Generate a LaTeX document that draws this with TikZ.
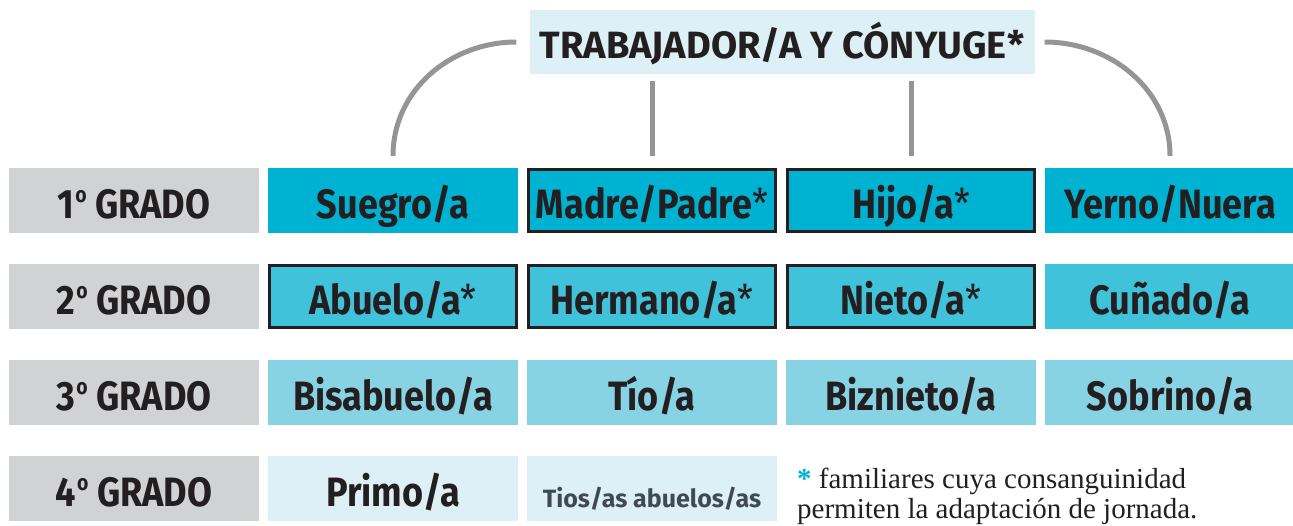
\documentclass[tikz,border=0pt]{standalone}
\usepackage{fontspec}
\setmainfont{Fira Sans}[FakeStretch=0.88]
\newfontfamily\notafont{Liberation Serif}
\newfontfamily\titulofont{Fira Sans}
\usepackage{tikz}
\usetikzlibrary{positioning}
\definecolor{grisgrado}{HTML}{D1D2D4}
\definecolor{fila1}{HTML}{00B2D2}
\definecolor{fila2}{HTML}{40C2DA}
\definecolor{fila3}{HTML}{87D3E4}
\definecolor{fila4}{HTML}{DCF0F6}
\definecolor{tinta}{HTML}{231F20}
\definecolor{enlacegris}{HTML}{939598}
\definecolor{tiosgris}{HTML}{414A50}
\tikzset{
  celda/.style={minimum width=250pt, minimum height=65pt, inner sep=0pt,
    text height=35pt, text depth=0pt,
    text=tinta, font=\bfseries\fontsize{41}{44}\selectfont},
  grado/.style={celda, fill=grisgrado},
  marco/.style={draw=tinta, line width=3pt, minimum width=247pt, minimum height=62pt},
  enlace/.style={draw=enlacegris, line width=5pt}
}
\newcommand{\marca}{{\mdseries*}}
\newcommand{\ordinal}{\kern1pt\raisebox{16pt}{\bfseries\fontsize{22}{22}\selectfont o}}

\begin{document}
\begin{tikzpicture}[x=1pt, y=-1pt]
\useasboundingbox (0,0) rectangle (1293,525);
% Cabecera
\node[celda, fill=fila4, minimum width=505pt, minimum height=64pt, text height=33pt,
  font=\titulofont\bfseries\fontsize{38}{40}\selectfont] (titulo) at (782,42) {TRABAJADOR/A Y CÓNYUGE*};
% Grados
\foreach \n/\y in {1/200.5, 2/296.5, 3/392.5, 4/488.5}
  \node[grado] (g\n) at (134,\y) {\n\ordinal\ GRADO};
% 1er grado
\node[celda, fill=fila1] (c11) at (393,200.5) {Suegro/a};
\node[celda, marco, fill=fila1] (c12) at (652,200.5) {Madre/Padre\marca};
\node[celda, marco, fill=fila1] (c13) at (911,200.5) {Hijo/a\marca};
\node[celda, fill=fila1] (c14) at (1170,200.5) {Yerno/Nuera};
% 2o grado
\node[celda, marco, fill=fila2] (c21) at (393,296.5) {Abuelo/a\marca};
\node[celda, marco, fill=fila2] (c22) at (652,296.5) {Hermano/a\marca};
\node[celda, marco, fill=fila2] (c23) at (911,296.5) {Nieto/a\marca};
\node[celda, fill=fila2] (c24) at (1170,296.5) {Cuñado/a};
% 3er grado
\node[celda, fill=fila3] (c31) at (393,392.5) {Bisabuelo/a};
\node[celda, fill=fila3] (c32) at (652,392.5) {Tío/a};
\node[celda, fill=fila3] (c33) at (911,392.5) {Biznieto/a};
\node[celda, fill=fila3] (c34) at (1170,392.5) {Sobrino/a};
% 4o grado
\node[celda, fill=fila4] (c41) at (393,488.5) {Primo/a};
\node[celda, fill=fila4, text=tiosgris, font=\titulofont\bfseries\fontsize{25}{28}\selectfont,
  text height=37pt] (c42) at (652,488.5) {Tios/as abuelos/as};
% Enlaces
\draw[enlace] ([xshift=-13pt]titulo.west) to[out=180, in=90] ([yshift=12pt]c11.north);
\draw[enlace] ([xshift=10pt]titulo.east) to[out=0, in=90] ([yshift=12pt]c14.north);
\draw[enlace] ([yshift=12pt]c12.north) -- ++(0,-75);
\draw[enlace] ([yshift=12pt]c13.north) -- ++(0,-75);
% Nota
\node[anchor=base west, align=left, inner sep=0pt, text=tinta,
  font=\notafont\fontsize{29}{30}\selectfont] (nota) at (797,518)
  {\textcolor{fila1}{\textbf{*}} familiares cuya consanguinidad\\permiten la adaptación de jornada.};
\end{tikzpicture}
\end{document}
